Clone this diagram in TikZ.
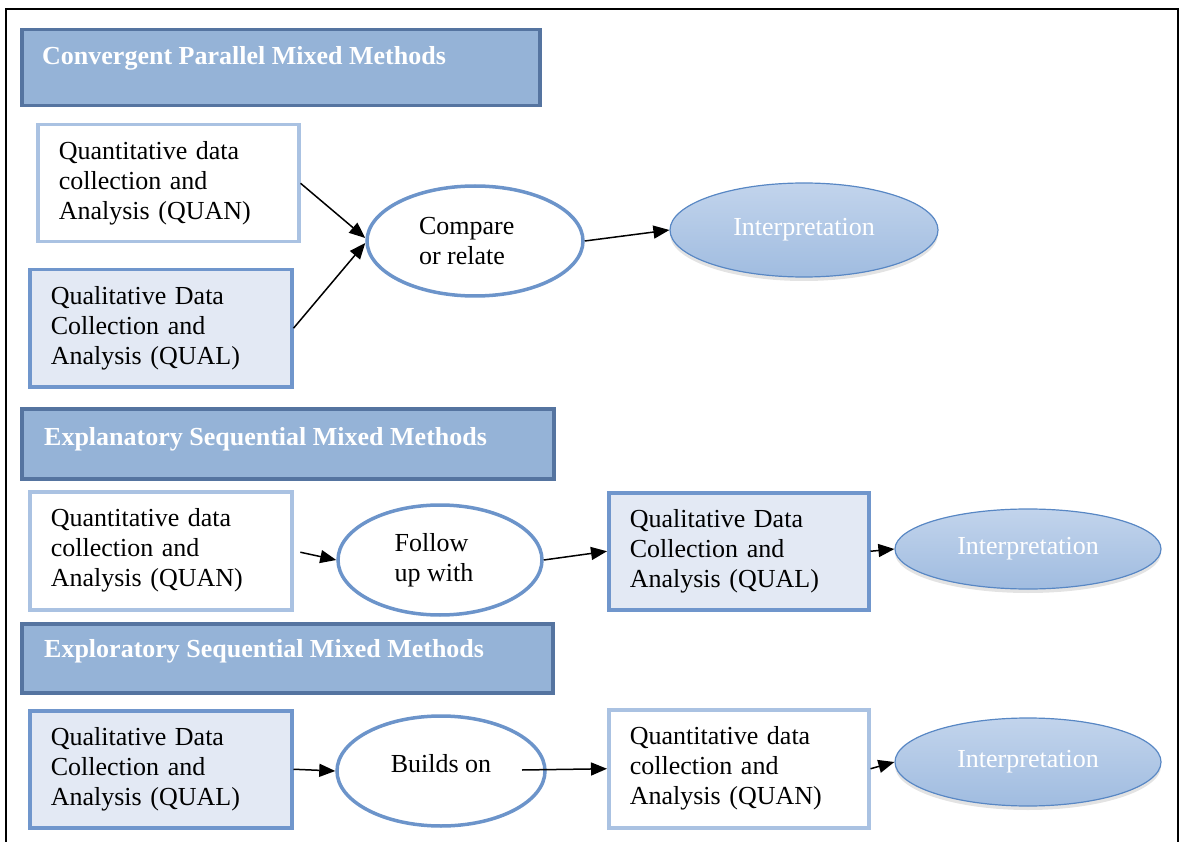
\documentclass[tikz,border=0pt]{standalone}
\usepackage{fontspec}
\setmainfont{Liberation Serif}
\usetikzlibrary{arrows.meta,shapes.geometric,shadows}
\definecolor{hdrfill}{RGB}{149,179,215}
\definecolor{hdrdraw}{RGB}{85,116,160}
\definecolor{lightdraw}{RGB}{170,194,226}
\definecolor{qualfill}{RGB}{227,233,244}
\definecolor{qualdraw}{RGB}{112,150,204}
\definecolor{elldraw}{RGB}{108,148,202}
\definecolor{inttop}{RGB}{194,212,236}
\definecolor{intbot}{RGB}{160,188,224}
\definecolor{intdraw}{RGB}{88,135,196}
\tikzset{
  txt/.style={font=\fontsize{26}{30}\selectfont},
  hdr/.style={rectangle, fill=hdrfill, draw=hdrdraw, line width=3.5pt, inner sep=0pt,
    drop shadow={shadow xshift=1pt, shadow yshift=-1.5pt, opacity=0.25}},
  hdrtext/.style={txt, font=\fontsize{26}{30}\selectfont\bfseries, text=white, anchor=west, inner sep=0pt},
  quanbox/.style={rectangle, fill=white, draw=lightdraw, line width=3.5pt, txt, align=left, inner xsep=21pt, inner ysep=0pt},
  qualbox/.style={rectangle, fill=qualfill, draw=qualdraw, line width=3.5pt, txt, align=left, inner xsep=21pt, inner ysep=0pt},
  oval/.style={ellipse, fill=white, draw=elldraw, line width=3.5pt, txt, align=left, inner sep=0pt},
  interp/.style={ellipse, top color=inttop, bottom color=intbot, draw=intdraw, line width=1.2pt, txt, text=white, inner sep=0pt,
    drop shadow={shadow xshift=0pt, shadow yshift=-4pt, opacity=0.22}},
  arr/.style={line width=1.5pt, -{Triangle[length=16pt,width=13pt]}},
}
\begin{document}
\begin{tikzpicture}[x=1pt,y=-1pt]
\useasboundingbox (0,0) rectangle (1181,842);
% outer frame
\draw[line width=1.8pt] (6,845) -- (6,9) -- (1178,9) -- (1178,845);

% ---- Convergent Parallel
\node[hdr, anchor=north west, minimum width=518pt, minimum height=76pt] (h1) at (20,28) {};
\node[hdrtext] (h1t) at (42,58) {Convergent Parallel Mixed Methods};
\node[quanbox, anchor=north west, text width=219pt, minimum height=117pt] (q1) at (36,123)
  {Quantitative data\\collection and\\Analysis (QUAN)};
\node[qualbox, anchor=north west, text width=220pt, minimum height=117pt] (ql1) at (28,268)
  {Qualitative Data\\Collection and\\Analysis (QUAL)};
\node[oval, minimum width=216pt, minimum height=110pt] (cmp) at (475,241) {\hspace*{-12pt}\raisebox{-2pt}{\parbox{100pt}{Compare\\or relate}}};
\node[interp, minimum width=268pt, minimum height=94pt] (int1) at (804,230) {Interpretation};
\draw[arr] (q1.east) -- ([yshift=3pt]cmp.west);
\draw[arr] (ql1.east) -- ([yshift=-2pt]cmp.west);
\draw[arr] (cmp.east) -- (int1.west);

% ---- Explanatory Sequential
\node[hdr, anchor=north west, minimum width=532pt, minimum height=70pt] (h2) at (20,407) {};
\node[hdrtext] (h2t) at (44,439) {Explanatory Sequential Mixed Methods};
\node[quanbox, anchor=north west, text width=220pt, minimum height=118pt] (q2) at (28,490)
  {Quantitative data\\collection and\\Analysis (QUAN)};
\node[oval, minimum width=204pt, minimum height=110pt] (fol) at (440,560) {\hspace*{-12pt}Follow\\\hspace*{-12pt}up with};
\node[qualbox, anchor=north west, text width=218pt, minimum height=117pt] (ql2) at (607,491)
  {Qualitative Data\\Collection and\\Analysis (QUAL)};
\node[interp, minimum width=266pt, minimum height=80pt] (int2) at (1028,549) {Interpretation};
\draw[arr, shorten <=7pt] (q2.east) -- (fol.west);
\draw[arr] (fol.east) -- (ql2.west);
\draw[arr] (ql2.east) -- (int2.west);

% ---- Exploratory Sequential
\node[hdr, anchor=north west, minimum width=531pt, minimum height=69pt] (h3) at (20,622) {};
\node[hdrtext] (h3t) at (44,651) {Exploratory Sequential Mixed Methods};
\node[qualbox, anchor=north west, text width=220pt, minimum height=117pt] (ql3) at (28,709)
  {Qualitative Data\\Collection and\\Analysis (QUAL)};
\node[oval, minimum width=208pt, minimum height=110pt] (bld) at (441,771) {\raisebox{15pt}{Builds on}};
\node[quanbox, anchor=north west, text width=218pt, minimum height=118pt] (q3) at (607,708)
  {Quantitative data\\collection and\\Analysis (QUAN)};
\node[interp, minimum width=266pt, minimum height=88pt] (int3) at (1028,762) {Interpretation};
\coordinate (bldout) at (522,770);
\draw[arr] (ql3.east) -- (bld.west);
\draw[arr] (bldout) -- (q3.west);
\draw[arr] (q3.east) -- (int3.west);
\end{tikzpicture}
\end{document}
